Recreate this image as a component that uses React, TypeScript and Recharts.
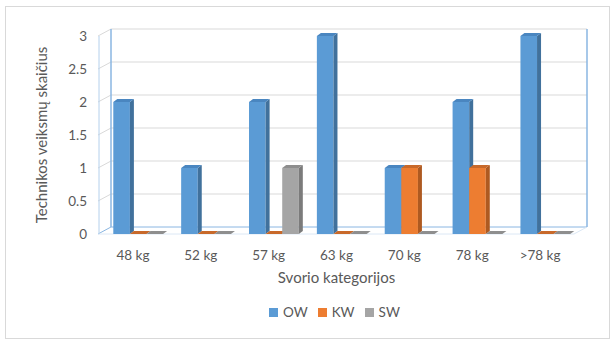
import { BarChart, Bar, XAxis, YAxis, CartesianGrid, Legend } from 'recharts';

const categories = ['48 kg', '52 kg', '57 kg', '63 kg', '70 kg', '78 kg', '>78 kg'];
const seriesNames = ['OW', 'KW', 'SW'];
const owValues = [2, 1, 2, 3, 1, 2, 3];
const kwValues = [0, 0, 0, 0, 1, 1, 0];
const swValues = [0, 0, 1, 0, 0, 0, 0];
const yTicks = [0, 0.5, 1, 1.5, 2, 2.5, 3];

const data = categories.map((name, i) => ({
  name,
  OW: owValues[i],
  KW: kwValues[i],
  SW: swValues[i],
}));

const WIDTH = 614;
const HEIGHT = 342;
const MARGIN = { top: 36, right: 40, left: 0, bottom: 42 };
const Y_AXIS_WIDTH = 99;
const X_AXIS_HEIGHT = 50;
const LEGEND_HEIGHT = 16;
const PLOT_TOP = MARGIN.top;
const PLOT_BOTTOM = HEIGHT - MARGIN.bottom - X_AXIS_HEIGHT - LEGEND_HEIGHT;

// pseudo-3D depth: walls sit further back than the bars
const WALL_DX = 13;
const WALL_DY = 7;
const BAR_DX = 4;
const BAR_DY = 3;
const BAR_SHIFT = 5.3;

const FONT = 'Lato, "Open Sans", sans-serif';
const TEXT = '#595959';
const GRID = '#D9D9D9';
const WALL = '#8AB6E2';

function makeBar3D(front: string, side: string, top: string) {
  return (props: any) => {
    const { y, width, height } = props;
    const x = props.x + BAR_SHIFT;
    const h = Math.max(0, height || 0);
    const w = width;
    return (
      <g>
        {h > 0 && <rect x={x} y={y} width={w} height={h} fill={front} />}
        {h > 0 && (
          <polygon
            points={`${x + w},${y} ${x + w + BAR_DX},${y - BAR_DY} ${x + w + BAR_DX},${y + h - BAR_DY} ${x + w},${y + h}`}
            fill={side}
          />
        )}
        <polygon
          points={`${x},${y} ${x + BAR_DX},${y - BAR_DY} ${x + w + BAR_DX},${y - BAR_DY} ${x + w},${y}`}
          fill={top}
        />
      </g>
    );
  };
}

const owShape = makeBar3D('#5B9BD5', '#41719C', '#4A86C0');
const kwShape = makeBar3D('#ED7D31', '#AE5A21', '#C8692A');
const swShape = makeBar3D('#A5A5A5', '#7B7B7B', '#8E8E8E');

// horizontal grid lines live on the back wall; the left wall gets a short diagonal
function WallLine(props: any) {
  const { x1, x2, y1, index } = props;
  const y = y1;
  const isBottom = Math.abs(y - PLOT_BOTTOM) < 0.5;
  const isTop = Math.abs(y - PLOT_TOP) < 0.5;
  return (
    <g key={`wall-${index}`}>
      <line x1={x1 - 1} y1={y} x2={x1 + WALL_DX - 1} y2={y - WALL_DY} stroke={isBottom ? WALL : GRID} strokeWidth={1} />
      <line x1={x1 + WALL_DX - 1} y1={y - WALL_DY} x2={x2 + WALL_DX} y2={y - WALL_DY} stroke={isBottom ? WALL : GRID} strokeWidth={1} />
      {isBottom && <line x1={x1 - 1} y1={y} x2={x2} y2={y} stroke="#DCE8F5" strokeWidth={1} />}
      {isBottom && <line x1={x2} y1={y} x2={x2 + WALL_DX} y2={y - WALL_DY} stroke="#DCE8F5" strokeWidth={1} />}
      {isTop && (
        <>
          <line x1={x1 + WALL_DX - 1} y1={y - WALL_DY} x2={x1 + WALL_DX - 1} y2={PLOT_BOTTOM - WALL_DY} stroke={WALL} strokeWidth={1.5} />
          <line x1={x2 + WALL_DX} y1={y - WALL_DY} x2={x2 + WALL_DX} y2={PLOT_BOTTOM - WALL_DY} stroke={WALL} strokeWidth={1.5} />
        </>
      )}
    </g>
  );
}

function LegendContent(props: any) {
  const items = [...(props.payload || [])].sort(
    (a: any, b: any) => seriesNames.indexOf(a.value) - seriesNames.indexOf(b.value),
  );
  return (
    <div style={{ display: 'flex', alignItems: 'center', fontFamily: FONT, fontSize: 13.5, color: TEXT, lineHeight: '16px' }}>
      {items.map((item: any) => (
        <div key={item.value} style={{ display: 'flex', alignItems: 'center', marginRight: 10 }}>
          <span style={{ display: 'inline-block', width: 9, height: 9, background: item.color, marginRight: 5 }} />
          <span>{item.value}</span>
        </div>
      ))}
    </div>
  );
}

export default function App() {
  return (
    <div style={{ position: 'fixed', left: 0, top: 0, width: WIDTH, height: HEIGHT, background: '#fff' }}>
      <div
        style={{
          position: 'absolute',
          left: 5,
          top: 6,
          width: 603,
          height: 331,
          border: '1px solid #D9D9D9',
        }}
      />
      <BarChart width={WIDTH} height={HEIGHT} data={data} margin={MARGIN} barGap={0} barSize={16.6}>
        <CartesianGrid vertical={false} horizontal={WallLine} />
        <XAxis
          dataKey="name"
          height={X_AXIS_HEIGHT}
          axisLine={false}
          tickLine={false}
          tickSize={0}
          tickMargin={16}
          interval={0}
          tick={{ fill: TEXT, fontSize: 13.5, fontFamily: FONT }}
          label={{
            value: 'Svorio kategorijos',
            position: 'insideBottom',
            offset: 1,
            fill: TEXT,
            fontSize: 15,
            fontFamily: FONT,
          }}
        />
        <YAxis
          width={Y_AXIS_WIDTH}
          domain={[0, 3]}
          ticks={yTicks}
          axisLine={{ stroke: '#B4D0EC' }}
          tickLine={false}
          tickSize={0}
          tickMargin={12}
          tick={{ fill: TEXT, fontSize: 13.5, fontFamily: FONT }}
          label={{
            value: 'Technikos veiksmų skaičius',
            angle: -90,
            position: 'insideLeft',
            offset: 42,
            fill: TEXT,
            fontSize: 15,
            fontFamily: FONT,
            style: { textAnchor: 'middle' },
          }}
        />
        <Legend
          verticalAlign="bottom"
          content={LegendContent}
          wrapperStyle={{ position: 'absolute', left: 269, top: 304, width: 'auto', height: LEGEND_HEIGHT }}
        />
        <Bar dataKey="OW" fill="#5B9BD5" shape={owShape} isAnimationActive={false} />
        <Bar dataKey="KW" fill="#ED7D31" shape={kwShape} isAnimationActive={false} />
        <Bar dataKey="SW" fill="#A5A5A5" shape={swShape} isAnimationActive={false} />
      </BarChart>
    </div>
  );
}
